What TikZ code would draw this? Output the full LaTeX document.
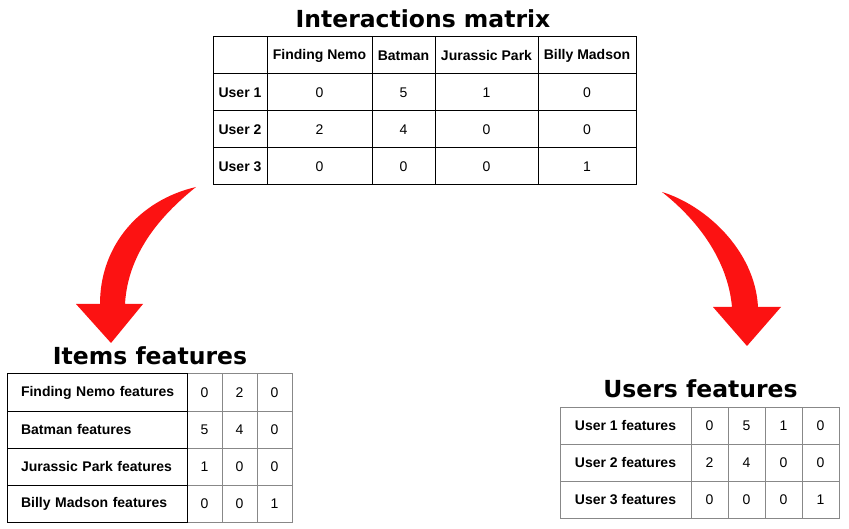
\documentclass[tikz,border=0pt]{standalone}
\usepackage{fontspec}
\setmainfont{Liberation Sans}
\newfontfamily\titlefont{DejaVu Sans}
\definecolor{arrowred}{RGB}{252,18,18}
\definecolor{gridgray}{RGB}{136,136,136}
\begin{document}
\begin{tikzpicture}[x=1pt,y=-1pt,
 cellbox/.style={draw, line width=1pt, inner sep=0pt, minimum height=37pt, font=\fontsize{14}{16}\selectfont},
 hd/.style={cellbox, font=\fontsize{14}{16}\selectfont\bfseries},
 graycell/.style={cellbox, draw=gridgray},
 ttl/.style={font=\titlefont\fontsize{23.5}{28}\selectfont\bfseries, anchor=base, inner sep=0pt},
 redarrow/.style={fill=arrowred, draw=none}]
\useasboundingbox (0,0) rectangle (849,529);

% ---- Interactions matrix ----
\node[ttl] (t1) at (423,28) {Interactions matrix};
\node[hd, minimum width=54pt]  (m00) at (240,55.5) {};
\node[hd, minimum width=105pt] (m01) at (319.5,55.5) {Finding Nemo};
\node[hd, minimum width=63pt]  (m02) at (403.5,55.5) {Batman};
\node[hd, minimum width=103pt] (m03) at (486.5,55.5) {Jurassic Park};
\node[hd, minimum width=98pt]  (m04) at (587,55.5) {Billy Madson};
\foreach \r/\y/\lab/\a/\b/\c/\d in {1/92.5/User 1/0/5/1/0, 2/129.5/User 2/2/4/0/0, 3/166.5/User 3/0/0/0/1}{
  \node[hd, minimum width=54pt]  (m\r0) at (240,\y) {\lab};
  \node[cellbox, minimum width=105pt] (m\r1) at (319.5,\y) {\a};
  \node[cellbox, minimum width=63pt]  (m\r2) at (403.5,\y) {\b};
  \node[cellbox, minimum width=103pt] (m\r3) at (486.5,\y) {\c};
  \node[cellbox, minimum width=98pt]  (m\r4) at (587,\y) {\d};
}

% ---- Items features ----
\node[ttl] (t2) at (150,365) {Items features};
\foreach \r/\y/\lab/\a/\b/\c in {1/392.5/Finding Nemo features/0/2/0, 2/429.5/Batman features/5/4/0, 3/466.5/Jurassic Park features/1/0/0, 4/503.5/Billy Madson features/0/0/1}{
  \node[graycell, minimum width=35pt] (i\r1) at (204.5,\y) {\a};
  \node[graycell, minimum width=35pt] (i\r2) at (239.5,\y) {\b};
  \node[graycell, minimum width=35pt] (i\r3) at (274.5,\y) {\c};
  \node[hd, inner xsep=0pt, text width=180pt, align=left] (i\r0) at (97,\y) {\hspace*{14pt}\lab};
}

% ---- Users features ----
\node[ttl] (t3) at (700.5,397) {Users features};
\foreach \r/\y/\lab/\a/\b/\c/\d in {1/425.5/User 1 features/0/5/1/0, 2/462.5/User 2 features/2/4/0/0, 3/499.5/User 3 features/0/0/0/1}{
  \node[graycell, minimum width=131pt, font=\fontsize{14}{16}\selectfont\bfseries] (u\r0) at (625.5,\y) {\lab};
  \node[graycell, minimum width=37pt] (u\r1) at (709.5,\y) {\a};
  \node[graycell, minimum width=37pt] (u\r2) at (746.5,\y) {\b};
  \node[graycell, minimum width=37pt] (u\r3) at (783.5,\y) {\c};
  \node[graycell, minimum width=37pt] (u\r4) at (820.5,\y) {\d};
}

% ---- curved arrows ----
\fill[redarrow] (196,187) .. controls (140,200) and (100,245) .. (100,304)
  -- (76,304) -- (111,343) -- (143,304) -- (125,304)
  .. controls (128,250) and (165,212) .. (196,187) -- cycle;
\fill[redarrow] (662,192) .. controls (705,205) and (755,250) .. (758,307)
  -- (781,307) -- (747,346) -- (713,307) -- (732,307)
  .. controls (728,262) and (700,222) .. (662,192) -- cycle;
\end{tikzpicture}
\end{document}
